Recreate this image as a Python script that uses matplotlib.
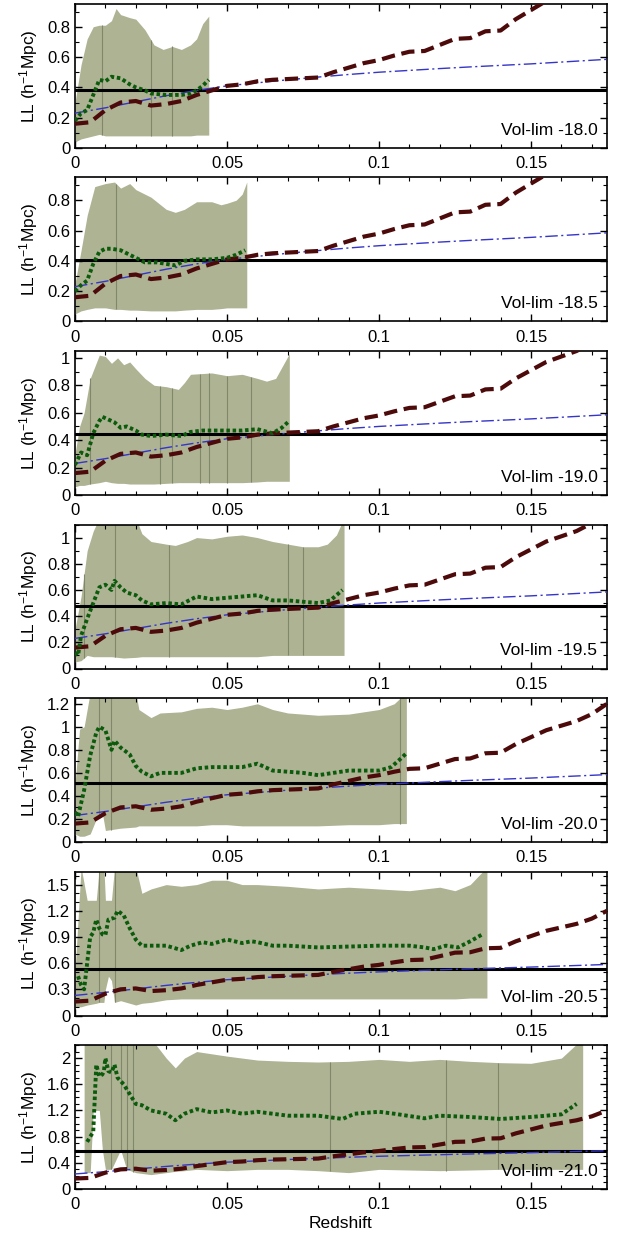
import numpy as np
import matplotlib
matplotlib.use('Agg')
from matplotlib import pyplot as plt
from matplotlib.ticker import MultipleLocator, FormatStrFormatter

plt.rcParams['font.family'] = ['Liberation Sans', 'DejaVu Sans']
plt.rcParams['mathtext.default'] = 'regular'

# curve common to all panels (red dashed)
z_red = [0, 0.005, 0.01, 0.015, 0.02, 0.025, 0.03, 0.035, 0.04, 0.045, 0.05, 0.055, 0.06,
         0.065, 0.07, 0.075, 0.08, 0.085, 0.09, 0.095, 0.1, 0.105, 0.11, 0.115, 0.12, 0.125,
         0.13, 0.135, 0.14, 0.145, 0.15, 0.155, 0.16, 0.165, 0.17, 0.175]
ll_red = [0.16, 0.17, 0.25, 0.30, 0.31, 0.28, 0.29, 0.31, 0.35, 0.38, 0.41, 0.42, 0.44,
          0.45, 0.455, 0.46, 0.465, 0.50, 0.53, 0.56, 0.58, 0.61, 0.635, 0.64, 0.68, 0.72,
          0.725, 0.77, 0.775, 0.85, 0.91, 0.97, 1.01, 1.05, 1.11, 1.20]

# blue dash-dot curve, also common
z_blue = [0, 0.01, 0.02, 0.03, 0.04, 0.05, 0.06, 0.07, 0.08, 0.09, 0.1, 0.11, 0.12, 0.13,
          0.14, 0.15, 0.16, 0.175]
ll_blue = [0.23, 0.265, 0.305, 0.345, 0.38, 0.41, 0.43, 0.45, 0.468, 0.485, 0.50, 0.512,
           0.524, 0.535, 0.545, 0.555, 0.567, 0.585]

labels = ['Vol-lim -18.0', 'Vol-lim -18.5', 'Vol-lim -19.0', 'Vol-lim -19.5',
          'Vol-lim -20.0', 'Vol-lim -20.5', 'Vol-lim -21.0']
ll_const = [0.38, 0.405, 0.445, 0.475, 0.51, 0.535, 0.575]
ymax = [0.95, 0.95, 1.05, 1.1, 1.25, 1.65, 2.2]
ymajor = [0.2, 0.2, 0.2, 0.2, 0.2, 0.3, 0.4]

# green dotted curves
z_g1 = [0, 0.002, 0.004, 0.006, 0.008, 0.01, 0.012, 0.015, 0.018, 0.02, 0.023, 0.025, 0.03,
        0.035, 0.038, 0.04, 0.042, 0.044]
g1 = [0.18, 0.23, 0.25, 0.35, 0.45, 0.44, 0.47, 0.46, 0.42, 0.40, 0.38, 0.36, 0.35, 0.35,
      0.36, 0.38, 0.41, 0.45]
z_g2 = [0, 0.002, 0.004, 0.006, 0.008, 0.01, 0.012, 0.015, 0.018, 0.02, 0.023, 0.027, 0.03,
        0.033, 0.036, 0.04, 0.045, 0.05, 0.053, 0.056]
g2 = [0.2, 0.24, 0.27, 0.38, 0.46, 0.48, 0.48, 0.47, 0.44, 0.42, 0.39, 0.39, 0.38, 0.37,
      0.40, 0.41, 0.41, 0.42, 0.44, 0.47]
z_g3 = [0, 0.002, 0.004, 0.006, 0.008, 0.009, 0.011, 0.013, 0.015, 0.017, 0.02, 0.022, 0.025,
        0.03, 0.035, 0.038, 0.042, 0.05, 0.055, 0.06, 0.065, 0.068, 0.07]
g3 = [0.22, 0.31, 0.29, 0.45, 0.54, 0.57, 0.55, 0.53, 0.49, 0.50, 0.47, 0.44, 0.43, 0.44,
      0.43, 0.46, 0.47, 0.47, 0.47, 0.48, 0.45, 0.49, 0.53]
z_g4 = [0, 0.001, 0.002, 0.004, 0.006, 0.008, 0.01, 0.012, 0.013, 0.015, 0.017, 0.02, 0.022,
        0.025, 0.03, 0.035, 0.04, 0.045, 0.05, 0.055, 0.06, 0.065, 0.07, 0.075, 0.08, 0.084,
        0.088]
g4 = [0.12, 0.10, 0.25, 0.38, 0.50, 0.62, 0.64, 0.60, 0.67, 0.62, 0.58, 0.56, 0.52, 0.49,
      0.50, 0.49, 0.55, 0.53, 0.54, 0.55, 0.56, 0.52, 0.52, 0.51, 0.50, 0.52, 0.60]
z_g5 = [0, 0.001, 0.003, 0.005, 0.007, 0.008, 0.01, 0.012, 0.013, 0.015, 0.018, 0.02, 0.022,
        0.025, 0.028, 0.035, 0.04, 0.045, 0.05, 0.055, 0.06, 0.065, 0.07, 0.075, 0.08, 0.085,
        0.09, 0.095, 0.1, 0.104, 0.107, 0.109]
g5 = [0.26, 0.22, 0.45, 0.75, 0.95, 1.0, 0.97, 0.80, 0.88, 0.82, 0.76, 0.66, 0.61, 0.57, 0.60,
      0.60, 0.64, 0.65, 0.65, 0.65, 0.68, 0.62, 0.61, 0.60, 0.58, 0.60, 0.62, 0.62, 0.62, 0.65,
      0.72, 0.77]
z_g6 = [0.001, 0.002, 0.003, 0.004, 0.005, 0.006, 0.007, 0.008, 0.009, 0.01, 0.011, 0.013,
        0.014, 0.016, 0.018, 0.02, 0.022, 0.025, 0.03, 0.035, 0.038, 0.042, 0.045, 0.05, 0.055,
        0.058, 0.06, 0.065, 0.07, 0.08, 0.09, 0.1, 0.11, 0.115, 0.118, 0.122, 0.126, 0.13, 0.134]
g6 = [0.45, 0.35, 0.30, 0.60, 0.90, 0.95, 1.10, 1.00, 0.93, 0.92, 1.10, 1.12, 1.20, 1.15, 1.00,
      0.87, 0.80, 0.80, 0.80, 0.75, 0.80, 0.84, 0.82, 0.87, 0.83, 0.85, 0.84, 0.80, 0.80, 0.78,
      0.79, 0.80, 0.80, 0.78, 0.76, 0.80, 0.78, 0.85, 0.93]
z_g7 = [0.004, 0.005, 0.006, 0.007, 0.008, 0.009, 0.0095, 0.01, 0.011, 0.012, 0.013, 0.014,
        0.016, 0.018, 0.02, 0.022, 0.025, 0.03, 0.033, 0.036, 0.04, 0.045, 0.05, 0.055, 0.06,
        0.065, 0.07, 0.08, 0.088, 0.092, 0.1, 0.105, 0.115, 0.12, 0.13, 0.14, 0.15, 0.16, 0.165]
g7 = [0.72, 0.80, 0.87, 1.90, 1.72, 1.75, 1.80, 2.00, 1.80, 1.78, 1.90, 1.70, 1.60, 1.45, 1.30,
      1.28, 1.20, 1.15, 1.05, 1.15, 1.22, 1.17, 1.20, 1.15, 1.18, 1.15, 1.12, 1.12, 1.07, 1.15,
      1.18, 1.15, 1.08, 1.12, 1.10, 1.07, 1.10, 1.14, 1.30]

# olive bands (spread of the measurements)
bz1 = [0, 0.002, 0.004, 0.006, 0.008, 0.01, 0.012, 0.0135, 0.015, 0.018, 0.02, 0.023, 0.026,
       0.029, 0.032, 0.035, 0.038, 0.04, 0.042, 0.044]
hi1 = [0.30, 0.55, 0.72, 0.80, 0.81, 0.81, 0.84, 0.92, 0.88, 0.86, 0.85, 0.78, 0.68, 0.65,
       0.67, 0.65, 0.68, 0.72, 0.82, 0.87]
lo1 = [0.04, 0.06, 0.07, 0.08, 0.09, 0.08, 0.08, 0.08, 0.08, 0.08, 0.08, 0.08, 0.08, 0.08,
       0.08, 0.08, 0.08, 0.085, 0.085, 0.085]
bz2 = [0, 0.002, 0.004, 0.0065, 0.01, 0.013, 0.015, 0.018, 0.02, 0.025, 0.03, 0.033, 0.036,
       0.04, 0.045, 0.048, 0.05, 0.053, 0.055, 0.0565]
hi2 = [0.25, 0.47, 0.70, 0.89, 0.91, 0.92, 0.88, 0.91, 0.87, 0.82, 0.74, 0.72, 0.74, 0.79,
       0.79, 0.77, 0.78, 0.80, 0.84, 0.92]
lo2 = [0.05, 0.07, 0.08, 0.09, 0.09, 0.08, 0.08, 0.075, 0.075, 0.07, 0.07, 0.07, 0.075, 0.08,
       0.08, 0.085, 0.09, 0.09, 0.09, 0.09]
bz3 = [0, 0.0015, 0.003, 0.005, 0.008, 0.01, 0.012, 0.014, 0.016, 0.018, 0.02, 0.023, 0.026,
       0.03, 0.034, 0.036, 0.038, 0.045, 0.05, 0.055, 0.06, 0.063, 0.066, 0.068, 0.0705]
hi3 = [0.30, 0.50, 0.60, 0.85, 1.02, 1.01, 0.96, 1.00, 0.95, 0.97, 0.92, 0.85, 0.80, 0.79,
       0.77, 0.82, 0.88, 0.89, 0.87, 0.88, 0.85, 0.83, 0.85, 0.93, 1.03]
lo3 = [0.06, 0.07, 0.07, 0.08, 0.09, 0.10, 0.09, 0.085, 0.085, 0.08, 0.08, 0.08, 0.08, 0.085,
       0.09, 0.09, 0.09, 0.09, 0.09, 0.09, 0.095, 0.10, 0.10, 0.10, 0.10]
bz4 = [0, 0.002, 0.004, 0.006, 0.008, 0.012, 0.016, 0.02, 0.022, 0.025, 0.03, 0.033, 0.037,
       0.04, 0.045, 0.05, 0.055, 0.06, 0.065, 0.07, 0.075, 0.08, 0.083, 0.086, 0.0885]
hi4 = [0.30, 0.55, 0.90, 1.05, 1.15, 1.15, 1.15, 1.15, 1.03, 0.97, 0.95, 0.94, 0.97, 1.00,
       0.99, 1.01, 1.02, 1.00, 0.97, 0.95, 0.93, 0.93, 0.95, 1.02, 1.15]
lo4 = [0.05, 0.06, 0.10, 0.09, 0.09, 0.09, 0.08, 0.085, 0.09, 0.09, 0.09, 0.09, 0.09, 0.09,
       0.09, 0.09, 0.09, 0.09, 0.10, 0.10, 0.10, 0.10, 0.10, 0.10, 0.10]
bz5 = [0, 0.0015, 0.003, 0.005, 0.007, 0.009, 0.01, 0.015, 0.02, 0.021, 0.025, 0.028, 0.035,
       0.04, 0.045, 0.05, 0.055, 0.06, 0.065, 0.07, 0.08, 0.09, 0.1, 0.105, 0.109]
hi5 = [0.50, 0.98, 1.00, 1.30, 1.30, 1.30, 1.30, 1.30, 1.30, 1.15, 1.08, 1.12, 1.13, 1.16,
       1.17, 1.15, 1.17, 1.20, 1.15, 1.12, 1.10, 1.11, 1.15, 1.20, 1.30]
lo5 = [0.07, 0.05, 0.05, 0.07, 0.20, 0.25, 0.10, 0.12, 0.13, 0.14, 0.14, 0.14, 0.14, 0.14,
       0.15, 0.15, 0.14, 0.14, 0.14, 0.14, 0.14, 0.15, 0.15, 0.16, 0.16]
bz6 = [0, 0.002, 0.004, 0.007, 0.008, 0.0095, 0.01, 0.011, 0.012, 0.013, 0.015, 0.02, 0.022,
       0.025, 0.03, 0.035, 0.04, 0.045, 0.05, 0.055, 0.06, 0.07, 0.08, 0.09, 0.1, 0.11, 0.12,
       0.125, 0.13, 0.1355]
hi6 = [0.50, 1.70, 1.32, 1.32, 1.70, 1.70, 1.32, 1.32, 1.32, 1.70, 1.70, 1.70, 1.40, 1.45,
       1.50, 1.48, 1.50, 1.55, 1.55, 1.50, 1.50, 1.48, 1.45, 1.47, 1.45, 1.43, 1.47, 1.43, 1.50,
       1.70]
lo6 = [0.10, 0.10, 0.12, 0.14, 0.15, 0.15, 0.30, 0.45, 0.40, 0.15, 0.17, 0.12, 0.14, 0.15,
       0.18, 0.19, 0.19, 0.19, 0.19, 0.19, 0.19, 0.19, 0.19, 0.19, 0.19, 0.19, 0.19, 0.19, 0.20,
       0.20]
bz7 = [0.003, 0.005, 0.006, 0.008, 0.009, 0.01, 0.012, 0.015, 0.017, 0.02, 0.025, 0.03, 0.033,
       0.036, 0.04, 0.05, 0.06, 0.07, 0.08, 0.09, 0.1, 0.11, 0.12, 0.13, 0.14, 0.15, 0.16, 0.167]
hi7 = [2.30, 2.30, 2.30, 2.30, 2.30, 2.30, 2.30, 2.30, 2.30, 2.30, 2.30, 2.00, 1.85, 2.00,
       2.10, 2.03, 1.97, 1.95, 1.94, 1.95, 1.98, 1.95, 1.98, 1.95, 1.93, 1.92, 2.00, 2.30]
lo7 = [0.25, 0.25, 1.20, 1.20, 0.60, 0.30, 0.30, 0.60, 0.30, 0.25, 0.22, 0.25, 0.27, 0.28,
       0.30, 0.28, 0.30, 0.30, 0.28, 0.25, 0.30, 0.29, 0.28, 0.29, 0.30, 0.30, 0.30, 0.30]

# darker single error bars inside the bands
dark1 = [0.009, 0.025, 0.032]
dark2 = [0.0135]
dark3 = [0.005, 0.028, 0.032, 0.041, 0.044, 0.05, 0.058]
dark4 = [0.003, 0.013, 0.031, 0.07, 0.075]
dark5 = [0.008, 0.012, 0.107]
dark6 = [0.008, 0.013]
dark7 = [0.012, 0.015, 0.017, 0.019, 0.084, 0.122, 0.139]

greens = [(z_g1, g1), (z_g2, g2), (z_g3, g3), (z_g4, g4), (z_g5, g5), (z_g6, g6), (z_g7, g7)]
bands = [(bz1, lo1, hi1), (bz2, lo2, hi2), (bz3, lo3, hi3), (bz4, lo4, hi4),
         (bz5, lo5, hi5), (bz6, lo6, hi6), (bz7, lo7, hi7)]
darks = [dark1, dark2, dark3, dark4, dark5, dark6, dark7]

fig = plt.figure(figsize=(6.17, 12.38), dpi=100)
H = 1238.0
for k in range(7):
    top_px = 4 + k * 173.5
    ax = fig.add_axes([75 / 617.0, 1 - (top_px + 144) / H, 532 / 617.0, 144 / H])

    bz, lo, hi = bands[k]
    ax.fill_between(bz, lo, hi, color='#adb393', linewidth=0, zorder=1)
    for zd in darks[k]:
        ax.vlines(zd, np.interp(zd, bz, lo), np.interp(zd, bz, hi), color='#80876a',
                  linewidth=0.8, zorder=1.5)

    ax.axhline(ll_const[k], color='black', linewidth=2.2, zorder=2)
    ax.plot(z_blue, ll_blue, color='#3535c8', linewidth=1.0, dashes=(9, 2.5, 1.5, 2.5), zorder=3)
    ax.plot(z_red, ll_red, color='#4d0a0a', linewidth=3.0, dashes=(3.2, 1.6), zorder=4)
    zg, gg = greens[k]
    ax.plot(zg, gg, color='#0c5a0c', linewidth=2.8, dashes=(0.9, 0.7), zorder=5)

    ax.set_xlim(0, 0.175)
    ax.set_ylim(0, ymax[k])
    ax.xaxis.set_major_locator(MultipleLocator(0.05))
    ax.xaxis.set_minor_locator(MultipleLocator(0.01))
    ax.yaxis.set_major_locator(MultipleLocator(ymajor[k]))
    ax.yaxis.set_minor_locator(MultipleLocator(0.1))
    ax.xaxis.set_major_formatter(FormatStrFormatter('%g'))
    ax.yaxis.set_major_formatter(FormatStrFormatter('%g'))
    ax.tick_params(which='both', direction='in', top=True, right=True, labelsize=12)
    ax.tick_params(which='major', length=5, width=1)
    ax.tick_params(which='minor', length=3, width=0.8)
    ax.tick_params(axis='x', pad=6)
    for s in ax.spines.values():
        s.set_linewidth(1.2)

    ax.text(0.982, 0.07, labels[k], transform=ax.transAxes, ha='right', va='bottom', fontsize=12.5)
    ax.set_ylabel('LL (h$^{-1}$Mpc)', fontsize=12.5, labelpad=5)
    if k == 6:
        ax.set_xlabel('Redshift', fontsize=12.5, labelpad=3)

plt.savefig('out.png', dpi=100)
